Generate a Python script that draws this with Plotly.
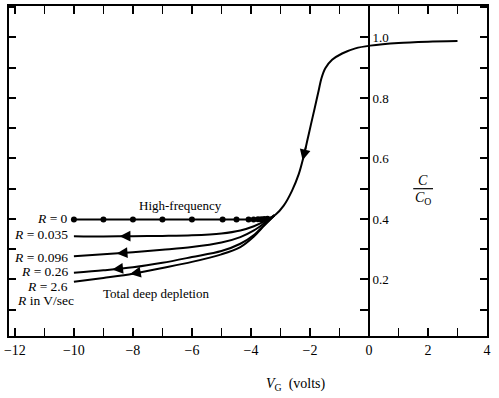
import numpy as np
import plotly.graph_objects as go

# ---------------- data ----------------
# high-frequency C-V curve (from accumulation down to the inversion knee)
hf_v = [3.0, 2.0, 1.0, 0.04, -0.46, -0.91, -1.25, -1.48, -1.61, -1.72, -1.84,
        -1.97, -2.10, -2.21, -2.38, -2.61, -2.89, -3.17, -3.42]
hf_c = [0.988, 0.986, 0.982, 0.973, 0.964, 0.947, 0.926, 0.898, 0.865, 0.818,
        0.766, 0.711, 0.655, 0.608, 0.548, 0.493, 0.444, 0.414, 0.401]

# R = 0 (equilibrium) branch with its dots
r0_v = [-3.44, -3.55, -3.65, -3.76, -3.91, -4.08, -4.49, -4.96, -6.0, -7.0, -8.0, -9.0, -10.0]
r0_c = [0.401, 0.400, 0.399, 0.399, 0.398, 0.398, 0.398, 0.398, 0.398, 0.398, 0.398, 0.398, 0.398]

# deep-depletion branches for several ramp rates R (V/sec)
dd_v = [-10.0, -9.0, -8.0, -7.0, -6.0, -5.0, -4.36, -3.9, -3.55, -3.2]
dd_c = {
    "0.035": [0.343, 0.342, 0.343, 0.344, 0.346, 0.352, 0.362, 0.376, 0.392, 0.412],
    "0.096": [0.277, 0.283, 0.290, 0.298, 0.307, 0.322, 0.340, 0.362, 0.386, 0.412],
    "0.26":  [0.222, 0.230, 0.240, 0.255, 0.274, 0.294, 0.318, 0.347, 0.380, 0.412],
    "2.6":   [0.192, 0.205, 0.219, 0.238, 0.258, 0.283, 0.307, 0.342, 0.378, 0.412],
}
rates = ["0", "0.035", "0.096", "0.26", "2.6"]
arrow_x = {"0.035": -8.45, "0.096": -8.55, "0.26": -8.7, "2.6": -8.1}

x_ticks = [-12, -10, -8, -6, -4, -2, 0, 2, 4]
y_ticks = [0.2, 0.4, 0.6, 0.8, 1.0]

XMIN, XMAX = -12.2, 4.0
YMIN, YMAX = 0.013, 1.104

FONT = "Liberation Serif"
LW = 2.0

fig = go.Figure()

# high-frequency curve
fig.add_trace(go.Scatter(x=hf_v, y=hf_c, mode="lines",
                         line=dict(color="black", width=LW, shape="spline", smoothing=0.8),
                         showlegend=False, hoverinfo="skip"))
# R = 0 branch with dots
fig.add_trace(go.Scatter(x=r0_v, y=r0_c, mode="lines+markers",
                         line=dict(color="black", width=LW),
                         marker=dict(color="black", size=6),
                         showlegend=False, hoverinfo="skip"))
# deep depletion branches
for r, cs in dd_c.items():
    fig.add_trace(go.Scatter(x=dd_v, y=cs, mode="lines",
                             line=dict(color="black", width=LW, shape="spline", smoothing=0.9),
                             showlegend=False, hoverinfo="skip"))

# invisible trace for the y2 axis (the axis drawn at V = 0)
fig.add_trace(go.Scatter(x=[0], y=[0.5], yaxis="y2", mode="markers",
                         marker=dict(opacity=0), showlegend=False, hoverinfo="skip"))

tickfont = dict(family=FONT, size=14, color="black")

fig.update_layout(
    width=499, height=398,
    margin=dict(l=8, r=12, t=4, b=62),
    paper_bgcolor="white", plot_bgcolor="white",
    xaxis=dict(range=[XMIN, XMAX], tickvals=x_ticks,
               ticktext=[("\u2212" + str(abs(t))) if t < 0 else str(t) for t in x_ticks],
               ticks="inside", ticklen=8, tickwidth=1.5, tickcolor="black",
               minor=dict(dtick=1, ticks="inside", ticklen=5, tickwidth=1.2, tickcolor="black"),
               showline=True, linewidth=LW, linecolor="black", mirror="allticks",
               showgrid=False, zeroline=False, tickfont=tickfont),
    yaxis=dict(range=[YMIN, YMAX], dtick=0.1, tick0=0,
               ticks="inside", ticklen=7, tickwidth=1.5, tickcolor="black",
               showline=True, linewidth=LW, linecolor="black", mirror="allticks",
               showticklabels=False, showgrid=False, zeroline=False),
    yaxis2=dict(range=[YMIN, YMAX], overlaying="y", anchor="free", side="right",
                position=(0 - XMIN) / (XMAX - XMIN),
                tickvals=y_ticks, ticktext=["%.1f" % t for t in y_ticks],
                ticks="inside", ticklen=8, tickwidth=1.5, tickcolor="black",
                minor=dict(tickvals=[0.1, 0.3, 0.5, 0.7, 0.9], ticks="inside",
                           ticklen=8, tickwidth=1.5, tickcolor="black"),
                showline=True, linewidth=LW, linecolor="black",
                showgrid=False, zeroline=False,
                tickfont=dict(family=FONT, size=13, color="black")),
)

ann = []
# arrowheads along the curves (drawn as annotation arrows, in data coordinates)
def arrow(xtip, xs, ys, dx):
    xs_a, ys_a = list(xs), list(ys)
    if xs_a[0] > xs_a[-1]:
        xs_a, ys_a = xs_a[::-1], ys_a[::-1]
    yt = float(np.interp(xtip, xs_a, ys_a))
    xt = xtip + dx
    ytail = float(np.interp(xt, xs_a, ys_a))
    return dict(x=xtip, y=yt, ax=xt, ay=ytail, xref="x", yref="y", axref="x", ayref="y",
                showarrow=True, arrowhead=2, arrowsize=1.35, arrowwidth=1.6,
                arrowcolor="black", standoff=0, startstandoff=0, text="")

for r, cs in dd_c.items():
    ann.append(arrow(arrow_x[r], dd_v, cs, 0.4))
ann.append(arrow(-2.25, hf_v, hf_c, 0.12))

label_y = {"0": 0.401, "0.035": 0.348, "0.096": 0.273, "0.26": 0.225, "2.6": 0.176}
for r in rates:
    ann.append(dict(x=-10.12, y=label_y[r], xref="x", yref="y", xanchor="right",
                    yanchor="middle", showarrow=False,
                    text="<i>R</i> = " + r, font=dict(family=FONT, size=13.5, color="black")))
ann.append(dict(x=-11.99, y=0.130, xref="x", yref="y", xanchor="left", yanchor="middle",
                showarrow=False, text="<i>R</i> in V/sec",
                font=dict(family=FONT, size=13.5, color="black")))
ann.append(dict(x=-6.38, y=0.444, xref="x", yref="y", showarrow=False,
                text="High-frequency", font=dict(family=FONT, size=13, color="black")))
ann.append(dict(x=-7.23, y=0.154, xref="x", yref="y", showarrow=False,
                text="Total deep depletion", font=dict(family=FONT, size=13, color="black")))
ann.append(dict(x=1.83, y=0.528, xref="x", yref="y", showarrow=False,
                text="<i>C</i>", font=dict(family=FONT, size=14, color="black")))
ann.append(dict(x=1.83, y=0.466, xref="x", yref="y", showarrow=False,
                text="<i>C</i><sub>O</sub>", font=dict(family=FONT, size=14, color="black")))
ann.append(dict(x=-2.46, y=-0.148, xref="x", yref="paper", yanchor="middle", showarrow=False,
                text="<i>V</i><sub>G</sub>  (volts)", font=dict(family=FONT, size=14, color="black")))
fig.update_layout(annotations=ann)

fig.add_shape(type="line", x0=1.50, x1=2.17, y0=0.5, y1=0.5, xref="x", yref="y",
              line=dict(color="black", width=1.2))

fig.write_html("out.html", config={"displayModeBar": False},
               post_script="document.body.style.margin='0';document.body.style.padding='0';")
